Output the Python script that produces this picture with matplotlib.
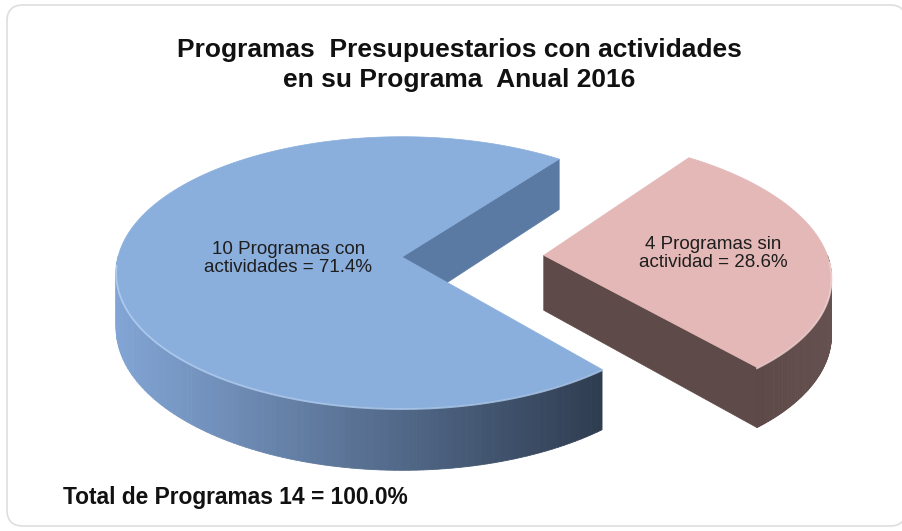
import numpy as np
import matplotlib.pyplot as plt
from matplotlib.patches import Polygon, FancyBboxPatch
from matplotlib.colors import to_rgb

plt.rcParams['font.family'] = ['Liberation Sans', 'DejaVu Sans']

title_lines = ['Programas  Presupuestarios con actividades', 'en su Programa  Anual 2016']
labels = ['10 Programas con\nactividades = 71.4%', '4 Programas sin\nactividad = 28.6%']
counts = [10, 4]
total_text = 'Total de Programas 14 = 100.0%'

top_colors = ['#8bafdd', '#e4b8b7']
cut_colors = ['#5a7aa3', '#5e4a48']
side_light = ['#82a5d5', '#5c4846']
side_dark = ['#2f3d51', '#65514f']
edge_hi = ['#b4d0f3', '#f2d6d5']
explode = [0.0, 0.5]
label_r = [0.4, 0.6]

# tilted disc seen in perspective, in pixel units
cx, cy = 402, 257
rx, ry = 284, 134
k = 0.114
depth = 55
start = 52.86


def proj(u, v, z=0.0):
    w = 1 + k * v
    return cx + rx * u / w, cy - ry * v / w + depth * z / w


def mix(c1, c2, f):
    a, b = np.array(to_rgb(c1)), np.array(to_rgb(c2))
    return tuple(a + (b - a) * f)


fig = plt.figure(figsize=(9.02, 5.31), dpi=100)
ax = fig.add_axes([0, 0, 1, 1])
ax.set_xlim(0, 902)
ax.set_ylim(531, 0)
ax.axis('off')

ax.add_patch(FancyBboxPatch((7, 5), 899, 521, boxstyle='round,pad=0,rounding_size=16',
                            fc='white', ec='#dedede', lw=1.2))

fracs = np.array(counts) / sum(counts)
t0 = start
for i in range(len(counts)):
    t1 = t0 + fracs[i] * 360
    mid = np.radians((t0 + t1) / 2)
    ou, ov = explode[i] * np.cos(mid), explode[i] * np.sin(mid)
    ts = np.radians(np.linspace(t0, t1, 200))

    # cut faces
    for t, show in [(ts[0], np.cos(ts[0]) > 0), (ts[-1], np.cos(ts[-1]) < 0)]:
        if show:
            eu, ev = ou + np.cos(t), ov + np.sin(t)
            pts = [proj(ou, ov), proj(eu, ev), proj(eu, ev, 1), proj(ou, ov, 1)]
            ax.add_patch(Polygon(pts, closed=True, fc=cut_colors[i], ec=cut_colors[i], lw=0.5))

    # outer side with left-to-right shading
    vis = [(a, b) for a, b in zip(ts[:-1], ts[1:]) if np.sin((a + b) / 2) < 0]
    if vis:
        xs = [proj(ou + np.cos(a), ov + np.sin(a))[0] for a, b in vis]
        xmin, xmax = min(xs), max(xs)
        for a, b in vis:
            pa = (ou + np.cos(a), ov + np.sin(a))
            pb = (ou + np.cos(b), ov + np.sin(b))
            x = proj(*pa)[0]
            f = (x - xmin) / (xmax - xmin + 1e-9)
            col = mix(side_light[i], side_dark[i], f)
            pts = [proj(*pa), proj(*pb), proj(*pb, 1), proj(*pa, 1)]
            ax.add_patch(Polygon(pts, closed=True, fc=col, ec=col, lw=0.6))

    # top face
    pts = [proj(ou, ov)] + [proj(ou + np.cos(t), ov + np.sin(t)) for t in ts]
    ax.add_patch(Polygon(pts, closed=True, fc=top_colors[i], ec=top_colors[i], lw=0.5))

    # light rim on the front edge
    fr = [t for t in ts if np.sin(t) < -0.05]
    if fr:
        rim = np.array([proj(ou + np.cos(t), ov + np.sin(t)) for t in fr])
        ax.plot(rim[:, 0], rim[:, 1] + 0.8, color=edge_hi[i], lw=1.3, alpha=0.8)

    lx, ly = proj(ou + label_r[i] * np.cos(mid), ov + label_r[i] * np.sin(mid))
    ax.text(lx, ly, labels[i], ha='center', va='center', fontsize=13.5,
            color='#1e1e1e', linespacing=1.05)
    t0 = t1

ax.text(459, 57, title_lines[0], ha='center', va='baseline', fontsize=19,
        fontweight='bold', color='#111111')
ax.text(459, 87, title_lines[1], ha='center', va='baseline', fontsize=19,
        fontweight='bold', color='#111111')
ax.text(63, 504, total_text, ha='left', va='baseline', fontsize=16.4,
        fontweight='bold', color='#111111')

fig.savefig('out.png', dpi=100)
